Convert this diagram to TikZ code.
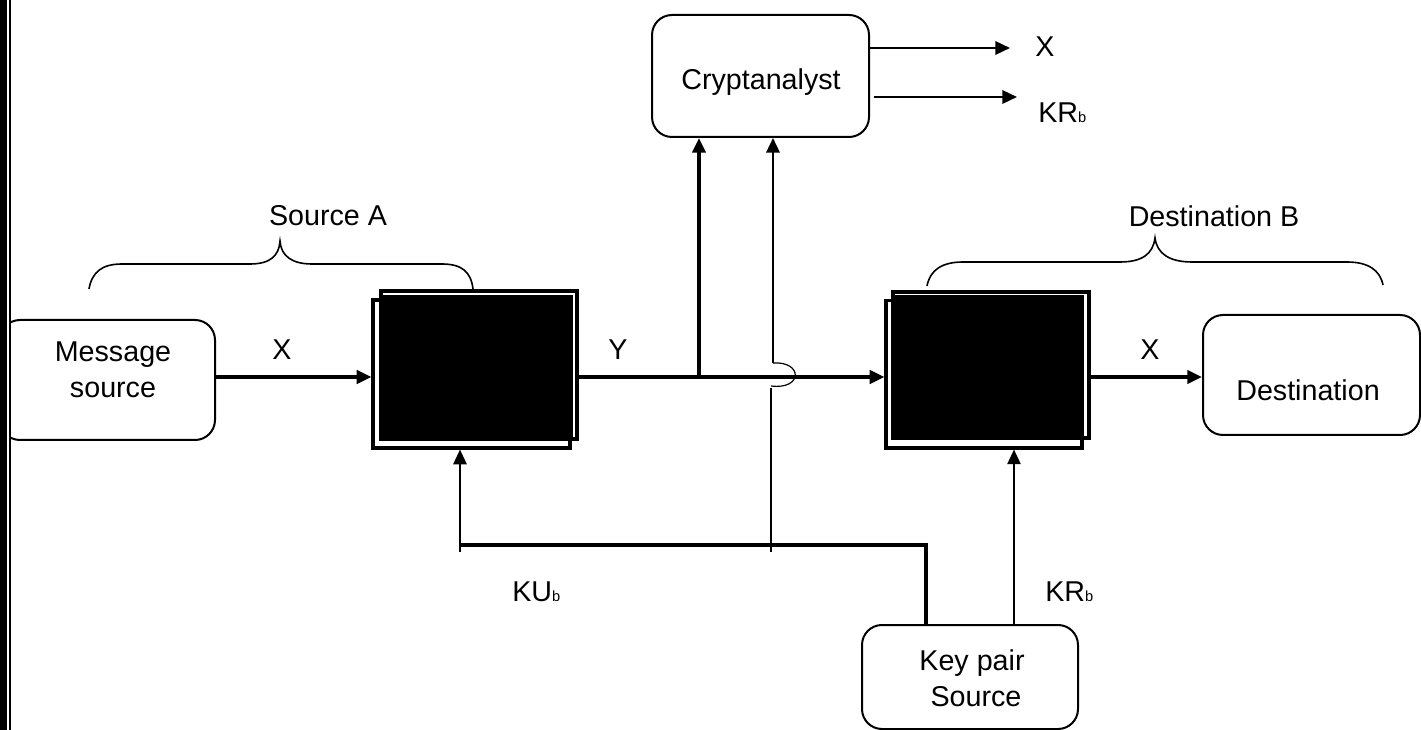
\documentclass[tikz,border=0pt]{standalone}
\usepackage{fontspec}
\setmainfont{Liberation Sans}
\usetikzlibrary{arrows.meta}
\newcommand{\subb}[1]{{\fontsize{11}{12}\selectfont #1}}
\begin{document}
\begin{tikzpicture}[x=0.75pt,y=-0.75pt,
  rbox/.style={draw, fill=white, rounded corners=15pt, line width=1.5pt, inner sep=0pt},
  sqbox/.style={draw, fill=white, line width=2.4pt, inner sep=0pt},
  txt/.style={font=\fontsize{21.5}{27}\selectfont, inner sep=0pt, align=center},
  arr/.style={-{Triangle[length=11pt,width=10pt]}, line width=2.5pt},
  arrmid/.style={-{Triangle[length=11pt,width=10pt]}, line width=1.8pt},
  arrthin/.style={-{Triangle[length=11pt,width=10pt]}, line width=1.3pt},
  brace/.style={line width=1.2pt},
]
\useasboundingbox (0,0) rectangle (1421,730);
\fill[white] (0,0) rectangle (1421,730);

% boxes
\node[rbox, minimum width=161.25pt, minimum height=90pt] (msg) at (107.5,380) {};
\node[rbox, minimum width=162.75pt, minimum height=91.5pt] (crypt) at (760.5,76) {};
\node[rbox, minimum width=162.75pt, minimum height=90pt] (dest) at (1311.5,375) {};
\node[rbox, minimum width=162pt, minimum height=78pt] (key) at (970,677) {};
\node[sqbox, minimum width=147.75pt, minimum height=111pt] (enc) at (471.5,374) {};
\node[sqbox, minimum width=147pt, minimum height=110.6pt] (dec) at (984,374.25) {};

% connectors
\coordinate (yl) at (0,377);
\draw[arr] (msg.east |- yl) -- (enc.west |- yl);
\draw[arr] (enc.east |- yl) -- (dec.west |- yl);
\coordinate (j) at (699,377);
\draw[arr] (j) -- (j |- crypt.south);
\draw[arr] (dec.east |- yl) -- (dest.west |- yl);

\coordinate (o1) at (1010,48);
\coordinate (o2) at (1017,97);
\draw[arrmid] (crypt.east |- o1) -- (o1);
\draw[arrmid] ([xshift=3pt]crypt.east |- o2) -- (o2);

% line to cryptanalyst with hop
\coordinate (h1) at (773,363);
\draw[arrmid] (h1) -- (h1 |- crypt.south);
\draw[line width=0.9pt] (h1) .. controls (803,361) and (803,390) .. (771,386);
\coordinate (h2) at (771,388);
\coordinate (h3) at (771,552);
\draw[line width=1.1pt] (h2) -- (h3);

% key lines
\coordinate (ku1) at (926,545);
\coordinate (ku2) at (460,545);
\draw[line width=2.4pt] (key.north -| ku1) -- (ku1) -- (ku2);
\draw[arrthin] (ku2) -- (ku2 |- enc.south);
\draw[line width=1.1pt] (ku2) -- ++(0,7);
\coordinate (kr) at (1014,0);
\draw[arrthin] (key.north -| kr) -- (kr |- dec.south);

% front (black) boxes
\draw[line width=2.4pt, fill=white] (381,291) rectangle (577,439);
\fill (381,295) rectangle (573,439);
\draw[line width=2.4pt, fill=white] (893,292) rectangle (1089,438);
\fill (893,295) rectangle (1084,438);

% braces
\draw[brace] (89,289) .. controls (92,272) and (102,264) .. (122,264) -- (250,264) .. controls (270,264) and (279,256) .. (280,241) .. controls (281,256) and (292,264) .. (312,264) -- (442,264) .. controls (462,264) and (471,272) .. (473,289);
\draw[brace] (927,286) .. controls (930,270) and (942,262) .. (963,262) -- (1120,262) .. controls (1142,262) and (1153,254) .. (1155,238) .. controls (1157,254) and (1170,262) .. (1192,262) -- (1347,262) .. controls (1368,262) and (1380,270) .. (1383,285);

% texts
\node[txt] (tmsg) at (113,370) {Message\\source};
\node[txt] (tcrypt) at (761,82) {Cryptanalyst};
\node[txt] (tdest) at (1308,390) {Destination};
\node[txt] (tkey) at (972,678) {Key pair\\\ Source};
\node[txt] (lx1) at (282,350) {X};
\node[txt] (ly) at (618,350) {Y};
\node[txt] (lx2) at (1150,350) {X};
\node[txt] (lx3) at (1045,47) {X};
\node[txt, anchor=base west] (lkr1) at (1038,123) {KR\subb{b}};
\node[txt, anchor=base west] (lku) at (512,601) {KU\subb{b}};
\node[txt, anchor=base west] (lkr2) at (1045,601) {KR\subb{b}};
\node[txt] (lsa) at (328,216) {Source A};
\node[txt] (ldb) at (1214,216) {Destination B};

% left bar
\fill (0,0) rectangle (7,730);
\fill[white] (7,0) rectangle (8.5,730);
\draw[line width=1.4pt] (9.6,0) -- (9.6,730);
\end{tikzpicture}
\end{document}
